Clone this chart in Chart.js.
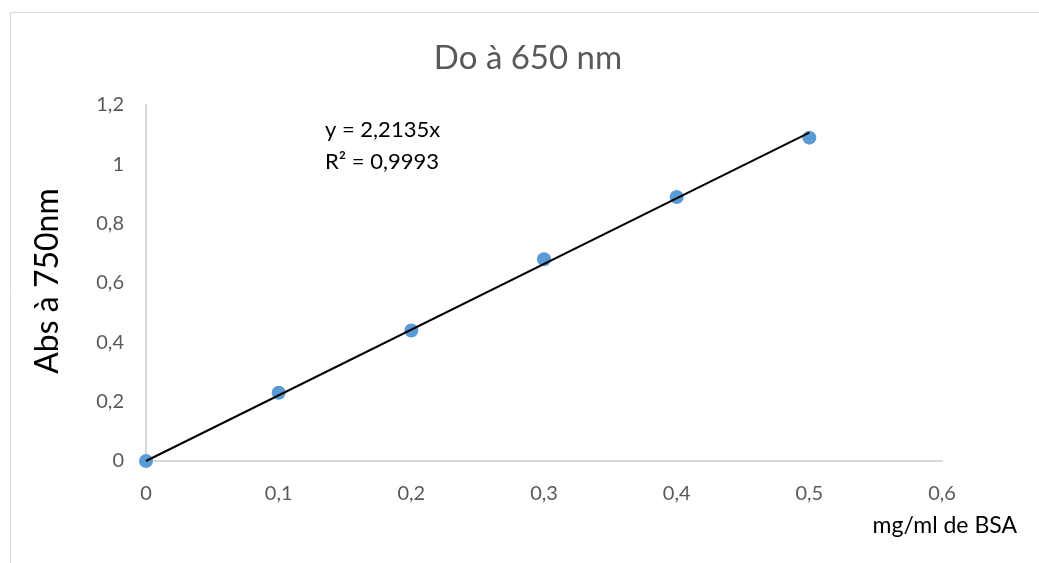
<!DOCTYPE html>
<html>
<head>
<meta charset="utf-8">
<script src="https://cdn.jsdelivr.net/npm/chart.js@4"></script>
<style>
html,body{margin:0;padding:0;background:#fff;}
#wrap{position:relative;width:1039px;height:563px;}
</style>
</head>
<body>
<div id="wrap"><canvas id="c" width="1039" height="563"></canvas></div>
<script>
const xValues = [0, 0.1, 0.2, 0.3, 0.4, 0.5];
const yValues = [0, 0.23, 0.44, 0.68, 0.89, 1.09];
const trendX = [0, 0.5];
const trendY = [0, 1.107];
const xTicks = [0, 0.1, 0.2, 0.3, 0.4, 0.5, 0.6];
const yTicks = [0, 0.2, 0.4, 0.6, 0.8, 1, 1.2];
const chartTitle = 'Do à 650 nm';
const xTitle = 'mg/ml de BSA';
const yTitle = 'Abs à 750nm';
const equation = ['y = 2,2135x', 'R² = 0,9993'];

const FONT = 'Lato, "Open Sans", sans-serif';
const fmt = v => String(Math.round(v*10)/10).replace('.', ',');

const textPlugin = {
  id: 'texts',
  beforeDraw(chart){
    const ctx = chart.ctx;
    ctx.save();
    ctx.fillStyle = '#fff';
    ctx.fillRect(0,0,chart.width,chart.height);
    ctx.strokeStyle = '#d9d9d9';
    ctx.lineWidth = 1;
    ctx.beginPath();
    ctx.moveTo(10.5, chart.height+5);
    ctx.lineTo(10.5, 12.5);
    ctx.lineTo(chart.width+5, 12.5);
    ctx.stroke();
    ctx.restore();
  },
  afterDraw(chart){
    const ctx = chart.ctx;
    ctx.save();
    ctx.fillStyle = '#595959';
    ctx.font = '33px ' + FONT;
    ctx.textAlign = 'center';
    ctx.textBaseline = 'middle';
    ctx.fillText(chartTitle, 528, 58);
    ctx.fillStyle = '#000';
    ctx.font = '22px ' + FONT;
    ctx.textAlign = 'left';
    ctx.fillText(equation[0], 325, 130);
    ctx.fillText(equation[1], 325, 162);
    ctx.font = '23px ' + FONT;
    ctx.textAlign = 'right';
    ctx.fillText(xTitle, 1017, 526);
    ctx.translate(48, 281);
    ctx.rotate(-Math.PI/2);
    ctx.textAlign = 'center';
    ctx.font = '32px ' + FONT;
    ctx.fillText(yTitle, 0, 0);
    ctx.restore();
  }
};

new Chart(document.getElementById('c'), {
  type: 'scatter',
  data: {
    datasets: [
      {
        label: 'Trend',
        data: trendX.map((x,i)=>({x, y: trendY[i]})),
        showLine: true,
        borderColor: '#000',
        borderWidth: 2,
        pointRadius: 0,
        fill: false,
        clip: false,
        order: 0
      },
      {
        label: 'Abs',
        data: xValues.map((x,i)=>({x, y: yValues[i]})),
        backgroundColor: '#5b9bd5',
        borderColor: '#5b9bd5',
        pointRadius: 7,
        pointBorderWidth: 0,
        clip: false,
        order: 1
      }
    ]
  },
  options: {
    responsive: false,
    animation: false,
    layout: { padding: { left: 10, right: 97, top: 105, bottom: 0 } },
    plugins: { legend: { display: false }, tooltip: { enabled: false }, title: { display: false } },
    scales: {
      x: {
        type: 'linear', min: 0, max: 0.6,
        afterBuildTicks: s => { s.ticks = xTicks.map(v=>({value:v})); },
        afterFit: s => { s.height = 102; },
        grid: { display: false, drawTicks: false },
        border: { display: true, color: '#d9d9d9', width: 2 },
        ticks: { color: '#595959', font: { family: FONT, size: 20 }, padding: 21, callback: v => fmt(v), maxRotation: 0 }
      },
      y: {
        type: 'linear', min: 0, max: 1.2,
        afterBuildTicks: s => { s.ticks = yTicks.map(v=>({value:v})); },
        afterFit: s => { s.width = 136; },
        grid: { display: false, drawTicks: false },
        border: { display: true, color: '#d9d9d9', width: 2 },
        ticks: { color: '#595959', font: { family: FONT, size: 20 }, padding: 22, callback: v => fmt(v) }
      }
    }
  },
  plugins: [textPlugin]
});
</script>
</body>
</html>
